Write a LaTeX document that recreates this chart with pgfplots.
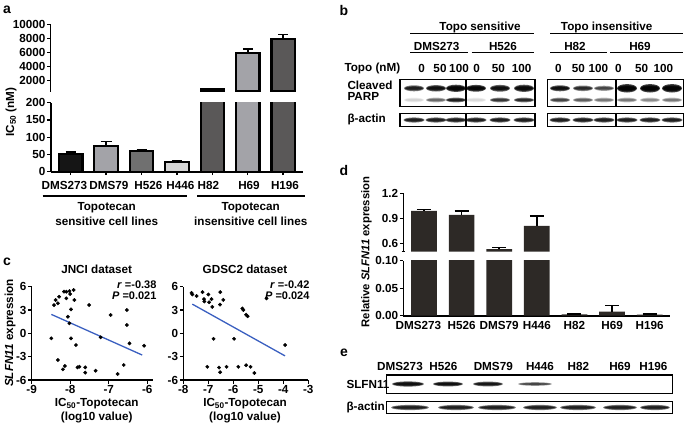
\documentclass[border=0pt]{standalone}
\usepackage{fontspec}
\setmainfont{Liberation Sans}
\usepackage{pgfplots}
\usepackage{pgfplotstable}
\pgfplotsset{compat=1.18}

\definecolor{cA}{HTML}{151515}
\definecolor{cB}{HTML}{A3A3A8}
\definecolor{cC}{HTML}{707070}
\definecolor{cD}{HTML}{D5D5D5}
\definecolor{cE}{HTML}{5A5858}
\definecolor{dbar}{HTML}{2D2926}
\definecolor{regblue}{HTML}{3A5FC0}

\newcommand{\lbl}{\bfseries\fontsize{11.7}{13}\selectfont}
\newcommand{\slbl}{\bfseries\fontsize{11}{12}\selectfont}
\newcommand{\plbl}{\bfseries\fontsize{14}{15}\selectfont}

% blot band: x, y (down), half width, half height, opacity
\newcommand{\band}[5]{%
  \foreach \s in {1,0.72,0.45}{%
    \fill[black,opacity=#5] (#1,-#2) ellipse ({#3*(0.75+0.25*\s)} and {#4*\s});}}

\pgfplotsset{
  prism/.style={
    scale only axis, axis x line*=bottom, axis y line*=left,
    axis line style={line width=1.6pt,-},
    every outer x axis line/.append style={-},
    every outer y axis line/.append style={-},
    tick style={black,line width=1.4pt},
    tick align=outside, major tick length=3.5pt,
    tick label style={font=\lbl},
    yticklabel style={inner sep=1.5pt},
    xticklabel style={inner sep=1.5pt},
    scaled ticks=false,
    /pgf/number format/assume math mode=true,
  },
  abar/.style={ybar, bar width=23.5pt, bar shift=0pt, draw=black, line width=2.2pt},
  eb/.style={error bars/.cd, y dir=plus, y explicit,
    error bar style={line width=1.5pt,black},
    error mark options={rotate=90,mark size=#1,line width=1.5pt,black}},
}

% panel a: IC50 (nM)
\newcommand{\abarslow}{%
  \addplot[abar, fill=cA, eb=5pt] coordinates {(0,52) +- (0,5)};
  \addplot[abar, fill=cB, eb=5.5pt] coordinates {(1,75) +- (0,12)};
  \addplot[abar, fill=cC, eb=5pt] coordinates {(2,60) +- (0,5)};
  \addplot[abar, fill=cD, eb=5pt] coordinates {(3,28) +- (0,3)};
}
\newcommand{\abarshigh}{%
  \addplot[abar, fill=cE] coordinates {(4,700)};
  \addplot[abar, fill=cB, eb=5pt] coordinates {(5,5940) +- (0,530)};
  \addplot[abar, fill=cE, eb=5pt] coordinates {(6,7860) +- (0,710)};
}

% panel c
\pgfplotstableread{
x y
-8.49 -0.64
-8.42 3.64
-8.38 4.29
-8.29 4.71
-8.32 3.86
-8.16 5.36
-8.10 5.36
-8.02 5.44
-8.00 5.06
-7.91 5.57
-8.10 4.50
-7.89 4.29
-8.06 2.14
-8.02 1.29
-7.98 3.09
-7.98 -0.64
-7.85 -1.50
-8.32 -3.43
-8.19 -4.63
-8.14 -4.20
-7.81 -4.37
-7.76 -4.29
-7.61 -5.06
-7.61 -4.37
-7.34 -4.80
-7.51 3.64
-7.21 -0.51
-6.95 2.36
-6.53 3.00
-6.53 1.07
-6.46 -1.29
-6.61 -4.07
-6.77 -5.23
-6.08 -1.59
}\jnci

\pgfplotstableread{
x y
-7.67 5.2
-7.64 5.0
-7.47 4.8
-7.23 5.3
-7.17 4.4
-7.16 4.1
-7.00 5.0
-6.97 4.0
-6.87 4.4
-6.84 3.4
-6.52 5.3
-6.53 3.7
-6.40 4.3
-6.79 -0.7
-5.97 -0.7
-7.04 -4.3
-6.57 -4.4
-6.53 -5.0
-6.27 -4.3
-5.80 -4.3
-5.49 -4.1
-5.31 -4.3
-5.16 -5.1
-5.64 3.2
-5.60 3.0
-5.49 2.4
-5.43 2.2
-3.93 -1.5
-4.67 4.5
}\gdsc

% panel d
\pgfplotstableread{
x y e
0 0.988 0.020
1 0.940 0.045
2 0.530 0.018
3 0.810 0.115
4 0.0025 0.001
5 0.0073 0.011
6 0.0020 0.0015
}\dtab

\begin{document}
\begin{tikzpicture}[x=1pt,y=1pt]
\path[use as bounding box] (0,0) rectangle (685,-423);

%================ panel a
\node[font=\plbl] at (7,-10) {a};
\begin{axis}[prism, at={(50.7pt,-171.7pt)}, anchor=south west,
  width=252.3pt, height=69pt,
  xmin=-0.565, xmax=6.56, ymin=0, ymax=200,
  xtick={0,...,6}, xticklabel=\empty,
  ytick={0,50,100,150,200}, yticklabels={0,50,100,150,200}]
\abarslow
\abarshigh
\end{axis}
\begin{axis}[prism, axis x line=none, at={(50.7pt,-91.5pt)}, anchor=south west,
  width=252.3pt, height=67.2pt,
  xmin=-0.565, xmax=6.56, ymin=400, ymax=10000,
  ytick={2000,4000,6000,8000,10000}, yticklabels={2000,4000,6000,8000,10000}]
\abarshigh
\end{axis}
\node[rotate=90,font=\lbl] at (11,-112) {IC\textsubscript{50} (nM)};
\foreach \x/\t in {64.5/DMS273,109/DMS79,148.3/H526,180.3/H446,208.3/H82,249/H69,285/H196}
  \node[font=\lbl] at (\x,-185) {\t};
\draw[line width=1.6pt] (42.7,-195.7) -- (187.3,-195.7);
\draw[line width=1.6pt] (197,-195.7) -- (305,-195.7);
\node[font=\lbl] at (106.7,-207.5) {Topotecan};
\node[font=\lbl] at (106.7,-221.7) {sensitive cell lines};
\node[font=\lbl] at (250.7,-207.5) {Topotecan};
\node[font=\lbl] at (250.7,-221.7) {insensitive cell lines};

%================ panel c
\node[font=\plbl] at (7,-262) {c};
\node[font=\lbl] at (96.7,-269.3) {JNCI dataset};
\node[font=\lbl] at (245,-269.3) {GDSC2 dataset};
\begin{axis}[prism, clip=false, at={(31.7pt,-380pt)}, anchor=south west,
  width=121.3pt, height=93.3pt,
  xmin=-9, xmax=-5.85, ymin=-6, ymax=6,
  xtick={-9,-8,-7,-6}, xticklabels={-9,-8,-7,-6},
  ytick={-6,-3,0,3,6}, yticklabels={-6,-3,0,3,6}]
\addplot[only marks, mark=*, mark size=1.7pt, black] table[x=x,y=y]{\jnci};
\addplot[line width=1.3pt, regblue, no marks] coordinates {(-8.49,2.44) (-6.13,-2.79)};
\end{axis}
\begin{axis}[prism, clip=false, at={(183.3pt,-380pt)}, anchor=south west,
  width=125pt, height=93.3pt,
  xmin=-8, xmax=-3, ymin=-6, ymax=6,
  xtick={-8,-7,-6,-5,-4,-3}, xticklabels={-8,-7,-6,-5,-4,-3},
  ytick={-6,-3,0,3,6}, yticklabels={-6,-3,0,3,6}]
\addplot[only marks, mark=*, mark size=1.7pt, black] table[x=x,y=y]{\gdsc};
\addplot[line width=1.3pt, regblue, no marks] coordinates {(-7.64,3.76) (-3.93,-2.9)};
\end{axis}
\node[font=\slbl, anchor=east] at (160,-285) {\textit{r} =-0.38};
\node[font=\slbl, anchor=east] at (160,-296) {\textit{P} =0.021};
\node[font=\slbl, anchor=east] at (313,-285) {\textit{r} =-0.42};
\node[font=\slbl, anchor=east] at (313,-296) {\textit{P} =0.024};
\node[rotate=90,font=\lbl] at (10,-333) {\textit{SLFN11} expression};
\node[font=\lbl] at (96.7,-404) {IC\textsubscript{50}-Topotecan};
\node[font=\lbl] at (96.7,-417) {(log10 value)};
\node[font=\lbl] at (245,-404) {IC\textsubscript{50}-Topotecan};
\node[font=\lbl] at (245,-417) {(log10 value)};

%================ panel b (western blot)
\node[font=\plbl] at (344,-10) {b};
\node[font=\lbl] at (480,-27.5) {Topo sensitive};
\node[font=\lbl] at (606.7,-27.5) {Topo insensitive};
\draw[line width=1.2pt] (410,-33.3) -- (534,-33.3);
\draw[line width=1.2pt] (550,-33.3) -- (683,-33.3);
\node[font=\lbl] at (436.7,-46.5) {DMS273};
\node[font=\lbl] at (503,-46.5) {H526};
\node[font=\lbl] at (575,-46.5) {H82};
\node[font=\lbl] at (640,-46.5) {H69};
\draw[line width=1.2pt] (410,-52.3) -- (468,-52.3);
\draw[line width=1.2pt] (471.7,-52.3) -- (534,-52.3);
\draw[line width=1.2pt] (550,-52.3) -- (606.7,-52.3);
\draw[line width=1.2pt] (610,-52.3) -- (683,-52.3);
\node[font=\lbl, anchor=west] at (341,-68.3) {Topo (nM)};
\foreach \x/\t in {421.7/0,440/50,459/100,476.7/0,498.3/50,521.7/100,558.3/0,578.3/50,598.3/100,618.3/0,641.7/50,663.3/100}
  \node[font=\lbl] at (\x,-68.3) {\t};
\node[font=\lbl, anchor=west] at (344,-85) {Cleaved};
\node[font=\lbl, anchor=west] at (344,-96.7) {PARP};
\node[font=\lbl, anchor=west] at (344,-119.5) {β-actin};
\foreach \x/\o/\h in {414/.5/3, 436/.6/3.2, 456/.7/3.6, 476/.7/3.4, 500/.6/3.4, 524/.65/3.6,
  560/.6/3, 583/.45/2.8, 604/.35/2.6, 627/.75/4.2, 650/.75/4.2, 672/.75/4.2}
  {\band{\x}{88.3}{10}{\h}{\o}}
\foreach \x/\o in {414/.06, 436/.25, 456/.5, 476/.05, 500/.4, 524/.45,
  560/.35, 583/.28, 604/.22, 627/.22, 650/.18, 672/.22}
  {\band{\x}{100}{10}{2.4}{\o}}
\foreach \x in {414,436,456,476,500,524,560,583,604,627,650,672}
  {\band{\x}{120}{10.5}{2.6}{.5}}
\draw[line width=1.2pt] (400,-79.3) rectangle (535,-106.7);
\draw[line width=1.2pt] (466,-79.3) -- (466,-106.7);
\draw[line width=1.2pt] (547.3,-79.3) rectangle (683.3,-106.7);
\draw[line width=1.2pt] (616,-79.3) -- (616,-106.7);
\draw[line width=1.2pt] (400,-113.3) rectangle (535,-126.7);
\draw[line width=1.2pt] (466,-113.3) -- (466,-126.7);
\draw[line width=1.2pt] (547.3,-113.3) rectangle (683.3,-126.7);
\draw[line width=1.2pt] (616,-113.3) -- (616,-126.7);

%================ panel d
\node[font=\plbl] at (344,-170) {d};
\begin{axis}[prism, at={(403.3pt,-315.7pt)}, anchor=south west,
  width=266.7pt, height=55pt,
  xmin=-0.55, xmax=6.54, ymin=0, ymax=0.1,
  ytick={0,0.05,0.1}, yticklabels={0.00,0.05,0.10},
  xtick={0,...,6},
  xticklabels={\hspace*{-11pt}DMS273,H526,DMS79,H446,H82,H69,H196},
  x tick style={draw=none}]
\addplot[ybar, bar width=25.7pt, bar shift=0pt, fill=dbar, draw=none, eb=7pt]
  table[x=x,y=y,y error=e]{\dtab};
\end{axis}
\begin{axis}[prism, axis x line=none, at={(403.3pt,-251.7pt)}, anchor=south west,
  width=266.7pt, height=58.4pt,
  xmin=-0.55, xmax=6.54, ymin=0.5, ymax=1.2,
  ytick={0.6,0.9,1.2}, yticklabels={0.6,0.9,1.2},
  extra y ticks={0.5}, extra y tick labels={}, extra y tick style={tick align=center}]
\addplot[ybar, bar width=25.7pt, bar shift=0pt, fill=dbar, draw=none,
  skip coords between index={4}{7}, eb=7pt]
  table[x=x,y=y,y error=e]{\dtab};
\end{axis}
\node[rotate=90,font=\bfseries\fontsize{11.3}{13}\selectfont] at (366.5,-252) {Relative \textit{SLFN11} expression};

%================ panel e
\node[font=\plbl] at (344,-353) {e};
\foreach \x/\t in {400/DMS273,443.3/H526,493.3/DMS79,540/H446,578.3/H82,620/H69,653.3/H196}
  \node[font=\lbl] at (\x,-366.7) {\t};
\node[font=\lbl, anchor=west] at (343,-384) {SLFN11};
\node[font=\lbl, anchor=west] at (343,-407.5) {β-actin};
\band{408}{384}{16}{2.6}{.6}
\band{448}{384}{15}{2.4}{.6}
\band{488}{384}{15}{2.4}{.55}
\band{535}{384}{17}{1.8}{.35}
\foreach \x/\w in {410/19,456/18,497/19,540/17,578/18,620/17,655/15}
  {\band{\x}{407.5}{\w}{2.6}{.5}}
\draw[line width=1.2pt] (386.7,-375) rectangle (672.7,-393.3);
\draw[line width=1.2pt] (386.7,-401.7) rectangle (672.7,-413.3);
\end{tikzpicture}
\end{document}
